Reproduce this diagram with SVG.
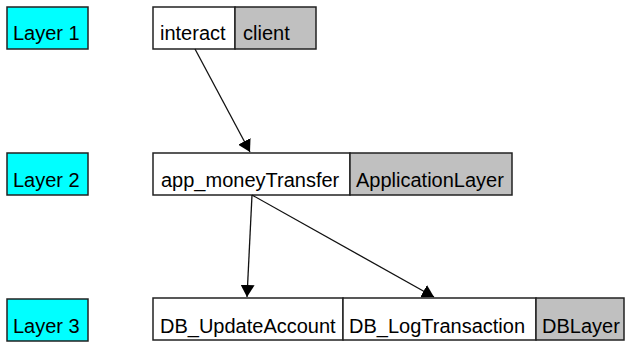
<svg xmlns="http://www.w3.org/2000/svg" width="630" height="342" viewBox="0 0 630 342">
  <style>
    .layer { fill: #00ffff; stroke: #222; stroke-width: 1.5; }
    .node { fill: #ffffff; stroke: #222; stroke-width: 1.5; }
    .pkg { fill: #c0c0c0; stroke: #222; stroke-width: 1.5; }
    text { font-family: "Liberation Sans", Arial, sans-serif; font-size: 20px; fill: #000; }
    .edge { stroke: #111; stroke-width: 1.3; fill: none; marker-end: url(#arrow); }
  </style>
  <defs>
    <marker id="arrow" viewBox="0 0 12 14" refX="12" refY="7" markerWidth="12" markerHeight="14" markerUnits="userSpaceOnUse" orient="auto">
      <path d="M0,0 L12,7 L0,14 z" fill="#000"/>
    </marker>
  </defs>

  <!-- layer labels -->
  <g id="layer1">
    <rect class="layer" x="7" y="7" width="81" height="42"/>
    <text x="13" y="40">Layer 1</text>
  </g>
  <g id="layer2">
    <rect class="layer" x="7" y="153" width="81" height="42"/>
    <text x="13" y="187">Layer 2</text>
  </g>
  <g id="layer3">
    <rect class="layer" x="7" y="299" width="81" height="42"/>
    <text x="13" y="333">Layer 3</text>
  </g>

  <!-- layer 1 -->
  <g id="interact">
    <rect class="node" x="153" y="7" width="82" height="42"/>
    <text x="160" y="40">interact</text>
  </g>
  <g id="client">
    <rect class="pkg" x="235" y="7" width="81" height="42"/>
    <text x="243" y="40">client</text>
  </g>

  <!-- layer 2 -->
  <g id="app_moneyTransfer">
    <rect class="node" x="153" y="153" width="197" height="42"/>
    <text x="161" y="187">app_moneyTransfer</text>
  </g>
  <g id="ApplicationLayer">
    <rect class="pkg" x="350" y="153" width="162" height="42"/>
    <text x="356" y="187">ApplicationLayer</text>
  </g>

  <!-- layer 3 -->
  <g id="DB_UpdateAccount">
    <rect class="node" x="153" y="298" width="190" height="42"/>
    <text x="160" y="333">DB_UpdateAccount</text>
  </g>
  <g id="DB_LogTransaction">
    <rect class="node" x="343" y="298" width="193" height="42"/>
    <text x="349" y="333">DB_LogTransaction</text>
  </g>
  <g id="DBLayer">
    <rect class="pkg" x="536" y="298" width="88" height="42"/>
    <text x="542" y="333">DBLayer</text>
  </g>

  <!-- connectors -->
  <g id="edges">
    <path class="edge" d="M195,49 L250,152"/>
    <path class="edge" d="M252,195 L247,297"/>
    <path class="edge" d="M252,195 L434,297"/>
  </g>
</svg>
